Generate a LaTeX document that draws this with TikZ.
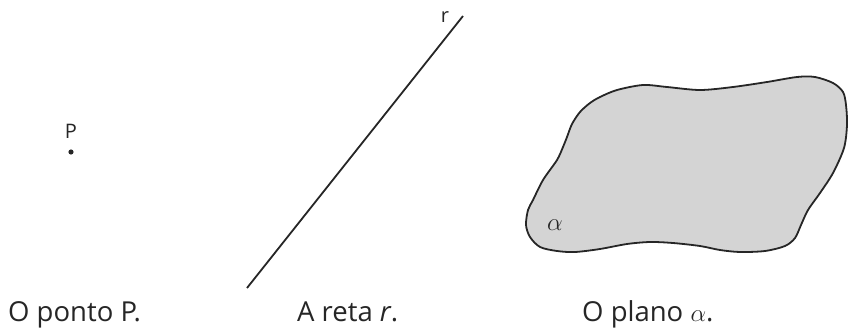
\documentclass[tikz,border=0pt]{standalone}
\usepackage{fontspec}
\setmainfont{Open Sans}
\begin{document}
\begin{tikzpicture}[x=1pt,y=-1pt,
  caption/.style={anchor=base west,font=\fontsize{27.5}{32}\selectfont,inner sep=0pt,text=black!85},
  small/.style={font=\fontsize{20}{22}\selectfont,inner sep=0pt,text=black!85},
  figline/.style={line width=1.8pt,black!85}]
\useasboundingbox (0,0) rectangle (848,329);
% point
\fill[black!85] (71,152) circle (2.6) coordinate (p);
\node[small,anchor=base] (plabel) at (71,138) {P};
% line
\coordinate (ra) at (247,288);
\coordinate (rb) at (463,16);
\draw[figline] (ra) -- (rb);
\node[small,anchor=base] (rlabel) at (445,23) {r};
% plane
\draw[figline,fill=black!17] plot[smooth cycle,tension=0.5] coordinates {
 (526,225) (528,210) (533,200) (543,180) (557,160) (563,147) (567,137) (572,124)
 (580,112) (590,103) (600,97) (617,90) (643,85) (667,87) (700,90) (733,87)
 (767,82) (797,77) (815,77) (833,83) (843,92) (846,105) (847,125) (844,148)
 (833,173) (820,193) (808,210) (801,225) (795,238) (785,246) (765,251) (740,252)
 (720,250) (700,246) (673,243) (650,242) (627,244) (600,249) (575,252) (557,251)
 (540,247) (530,237)};
\node[inner sep=0pt,font=\fontsize{24}{26}\selectfont,text=black!85] (alpha) at (555,225) {$\alpha$};
% captions
\node[caption] (c1) at (8,321) {O ponto P.};
\node[caption] (c2) at (297,321) {A reta \textit{r}.};
\node[caption] (c3) at (582,321) {O plano $\alpha$.};
\end{tikzpicture}
\end{document}
